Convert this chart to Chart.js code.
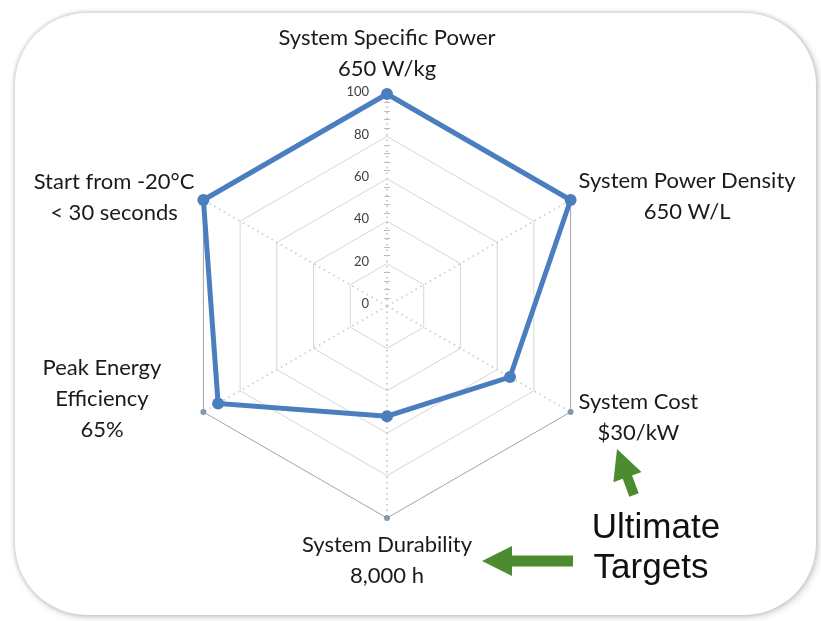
<!DOCTYPE html>
<html>
<head>
<meta charset="utf-8">
<script src="https://cdn.jsdelivr.net/npm/chart.js@4.4.1/dist/chart.umd.min.js"></script>
<style>
  html, body { margin: 0; padding: 0; background: #fff; }
  #wrap { position: relative; width: 821px; height: 621px; overflow: hidden; }
  #card {
    position: absolute; left: 15px; top: 13px; width: 801px; height: 602px;
    border-radius: 72px; background: #fff;
    box-shadow: 0 0 3px 2px rgba(0,0,0,0.11), 2px 2px 6px 2px rgba(0,0,0,0.11);
  }
  canvas { position: absolute; left: 0; top: 0; }
</style>
</head>
<body>
<div id="wrap">
  <div id="card"></div>
  <canvas id="c" width="821" height="621"></canvas>
</div>
<script>
// Fuel cell system targets, as a percentage of the ultimate target
const categories = [
  ["System Specific Power", "650 W/kg"],
  ["System Power Density", "650 W/L"],
  ["System Cost", "$30/kW"],
  ["System Durability", "8,000 h"],
  ["Peak Energy", "Efficiency", "65%"],
  ["Start from -20°C", "< 30 seconds"]
];
const statusValues = [100, 100, 67, 52, 92, 100];
const tickValues = [0, 20, 40, 60, 80, 100];
const calloutLines = ["Ultimate", "Targets"];

const LABEL_FONT = '22px Lato, "Open Sans", sans-serif';
const TICK_FONT = '13px Lato, "Open Sans", sans-serif';
const BLUE = '#4a7ebf';
const GREEN = '#4d8b31';

// where each category label block sits relative to its outer vertex
const labelLayout = [
  { align: 'center', dx: 0,   dy: -56 },
  { align: 'left',   dx: 8,   dy: -19 },
  { align: 'left',   dx: 8,   dy: -10 },
  { align: 'center', dx: 0,   dy: 27 },
  { align: 'right',  dx: -42, dy: -44 },
  { align: 'right',  dx: -9,  dy: -18 }
];
const LINE_GAP = 31;

const radarDecor = {
  id: 'radarDecor',
  beforeDatasetsDraw(chart) {
    const ctx = chart.ctx;
    const r = chart.scales.r;
    ctx.save();
    // minor tick marks along the value axis
    ctx.strokeStyle = '#bdbdbd';
    ctx.lineWidth = 1;
    for (let v = 4; v < r.max; v += 4) {
      if (v % 20 === 0) continue;
      const p = r.getPointPositionForValue(0, v);
      ctx.beginPath();
      ctx.moveTo(p.x - 3, Math.round(p.y) + 0.5);
      ctx.lineTo(p.x + 3, Math.round(p.y) + 0.5);
      ctx.stroke();
    }
    // small markers at the ends of each axis
    ctx.fillStyle = '#8797ad';
    for (let i = 0; i < categories.length; i++) {
      const p = r.getPointPositionForValue(i, r.max);
      ctx.beginPath();
      ctx.arc(p.x, p.y, 3, 0, Math.PI * 2);
      ctx.fill();
    }
    // value axis labels
    ctx.font = TICK_FONT;
    ctx.fillStyle = '#404040';
    ctx.textAlign = 'right';
    ctx.textBaseline = 'middle';
    r.ticks.forEach(t => {
      const p = r.getPointPositionForValue(0, t.value);
      ctx.fillText(String(t.value), p.x - 18, p.y - 2);
    });
    ctx.restore();
  },
  afterDraw(chart) {
    const ctx = chart.ctx;
    const r = chart.scales.r;
    ctx.save();
    // category labels, each line centred within its block
    ctx.font = LABEL_FONT;
    ctx.fillStyle = '#1a1a1a';
    ctx.textAlign = 'center';
    ctx.textBaseline = 'middle';
    chart.data.labels.forEach((lines, i) => {
      const p = r.getPointPositionForValue(i, r.max);
      const lay = labelLayout[i];
      const w = Math.max(...lines.map(s => ctx.measureText(s).width));
      let left;
      if (lay.align === 'left') left = p.x + lay.dx;
      else if (lay.align === 'right') left = p.x + lay.dx - w;
      else left = p.x - w / 2;
      lines.forEach((s, k) => {
        ctx.fillText(s, left + w / 2, p.y + lay.dy + k * LINE_GAP);
      });
    });

    // callout arrows
    ctx.fillStyle = GREEN;
    drawArrow(ctx, 634, 495, 617, 449, 30, 15, 5);
    drawArrow(ctx, 573, 561, 482, 561, 30, 15, 5.5);

    // callout text
    ctx.fillStyle = '#111';
    ctx.font = '35px "Liberation Sans", Arial, sans-serif';
    ctx.textAlign = 'center';
    ctx.textBaseline = 'alphabetic';
    ctx.fillText(calloutLines[0], 656, 538);
    ctx.fillText(calloutLines[1], 651, 578);
    ctx.restore();
  }
};

function drawArrow(ctx, x0, y0, x1, y1, headLen, headHalf, shaftHalf) {
  const dx = x1 - x0, dy = y1 - y0;
  const len = Math.hypot(dx, dy);
  const ux = dx / len, uy = dy / len;
  const px = -uy, py = ux;
  const bx = x1 - ux * headLen, by = y1 - uy * headLen;
  ctx.beginPath();
  ctx.moveTo(x0 + px * shaftHalf, y0 + py * shaftHalf);
  ctx.lineTo(bx + px * shaftHalf, by + py * shaftHalf);
  ctx.lineTo(bx + px * headHalf, by + py * headHalf);
  ctx.lineTo(x1, y1);
  ctx.lineTo(bx - px * headHalf, by - py * headHalf);
  ctx.lineTo(bx - px * shaftHalf, by - py * shaftHalf);
  ctx.lineTo(x0 - px * shaftHalf, y0 - py * shaftHalf);
  ctx.closePath();
  ctx.fill();
}

new Chart(document.getElementById('c'), {
  type: 'radar',
  data: {
    labels: categories,
    datasets: [{
      label: 'Status',
      data: statusValues,
      borderColor: BLUE,
      backgroundColor: 'transparent',
      borderWidth: 5,
      fill: false,
      tension: 0,
      pointRadius: 6,
      pointBorderWidth: 0,
      pointBackgroundColor: BLUE
    }]
  },
  options: {
    responsive: false,
    animation: false,
    layout: { padding: { left: 175, right: 222, top: 94, bottom: 103 } },
    plugins: { legend: { display: false }, tooltip: { enabled: false } },
    scales: {
      r: {
        min: 0,
        max: 100,
        afterBuildTicks: s => { s.ticks = tickValues.map(v => ({ value: v })); },
        ticks: { display: false, stepSize: 20 },
        pointLabels: { display: false },
        grid: {
          color: c => (c.tick && c.tick.value === 100) ? '#a3a3a3' : '#d6d6d6',
          lineWidth: 1
        },
        angleLines: { color: '#cdcdcd', lineWidth: 2, borderDash: [1.5, 4] }
      }
    }
  },
  plugins: [radarDecor]
});
</script>
</body>
</html>
